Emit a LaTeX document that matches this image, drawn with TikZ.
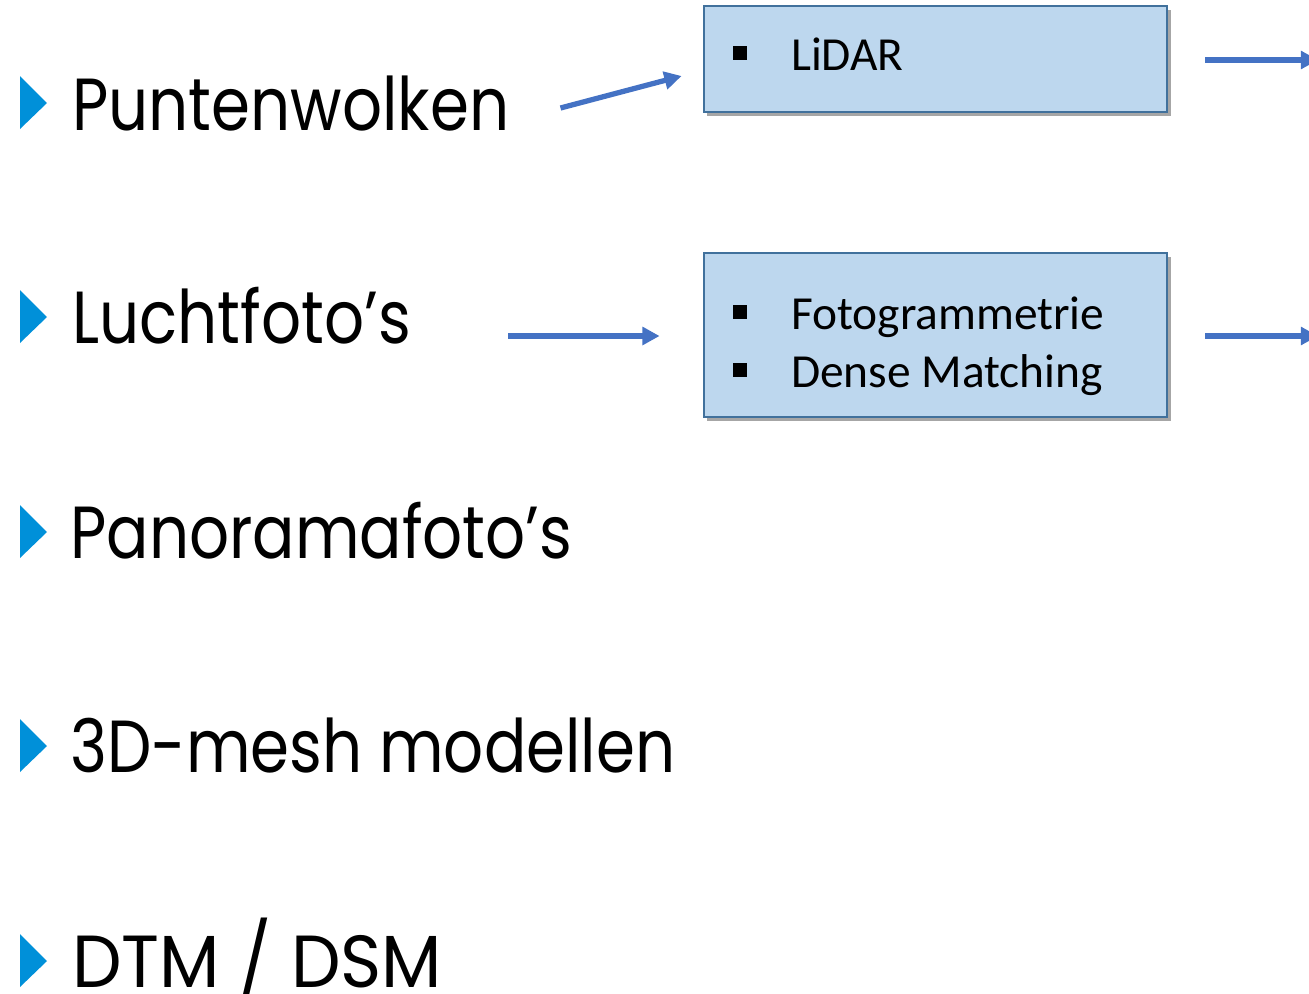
\documentclass[tikz,border=0pt]{standalone}
\usepackage{fontspec}
\usetikzlibrary{arrows.meta,calc,shadows}
\newfontfamily\headfont[FakeStretch=0.85]{Poppins}
\newfontfamily\wideheadfont[FakeStretch=0.95]{Poppins}
\newfontfamily\boxfont{Carlito}
\definecolor{bulletblue}{HTML}{0090D9}
\definecolor{arrowblue}{HTML}{4472C4}
\definecolor{boxfill}{HTML}{BDD7EE}
\definecolor{boxline}{HTML}{41719C}
\newcommand\sqitem{\rule[5.9pt]{7.9pt}{7.9pt}\hspace{25pt}}

\begin{document}
\begin{tikzpicture}[x=0.02cm, y=-0.02cm,
		head/.style={anchor=base west, inner sep=0pt, font=\headfont\fontsize{42}{50}\selectfont},
		box/.style={draw=boxline, line width=1.1pt, fill=boxfill, minimum width=9.28cm,
			drop shadow={shadow xshift=1.8pt, shadow yshift=-2.2pt, opacity=0.35, fill=black}},
		item/.style={anchor=base west, inner sep=0pt, font=\boxfont\fontsize{27}{33}\selectfont},
		arr/.style={draw=arrowblue, line width=3pt, -{Triangle[length=9.8pt, width=10pt]}},
	]
	\clip (0,0) rectangle (1309,994);

	% bullets
	\fill[bulletblue] (20,76) -- (47,103) -- (20,129) -- cycle;
	\fill[bulletblue] (20,290) -- (47,317) -- (20,343) -- cycle;
	\fill[bulletblue] (20,505) -- (47,532) -- (20,558) -- cycle;
	\fill[bulletblue] (20,719) -- (47,746) -- (20,772) -- cycle;
	\fill[bulletblue] (20,934) -- (47,961) -- (20,987) -- cycle;

	\node[head] (punt) at (72, 130) {Puntenwolken};
	\node[head] (lucht) at (72, 343) {Luchtfoto’s};
	\node[head] (pano) at (70, 558) {Panoramafoto’s};
	\node[head] (mesh) at (70, 772) {3D-mesh modellen};
	\node[head, font=\wideheadfont\fontsize{42}{50}\selectfont] (dtm) at (72, 987) {DTM / DSM};

	\node[box, minimum height=2.12cm] (lidar) at (935.5, 59) {};
	\node[box, minimum height=3.28cm] (foto) at (935.5, 335) {};

	\node[item] (lidartxt) at (733, 70) {\sqitem LiDAR};
	\node[item] (fototxt) at (733, 329) {\sqitem Fotogrammetrie};
	\node[item] (densetxt) at (733, 387) {\sqitem Dense Matching};

	\coordinate (out1) at (1318, 60);
	\coordinate (out2) at (1318, 336);

	\draw[arr] ($(punt.base east)+(51,-22)$) -- ($(lidar.west)+(-21,17)$);
	\draw[arr] ($(lucht.base east)+(97,-7)$) -- ($(foto.west)+(-43,1)$);
	\draw[arr] ($(lidar.east)+(37,1)$) -- (out1);
	\draw[arr] ($(foto.east)+(37,1)$) -- (out2);
\end{tikzpicture}
\end{document}
